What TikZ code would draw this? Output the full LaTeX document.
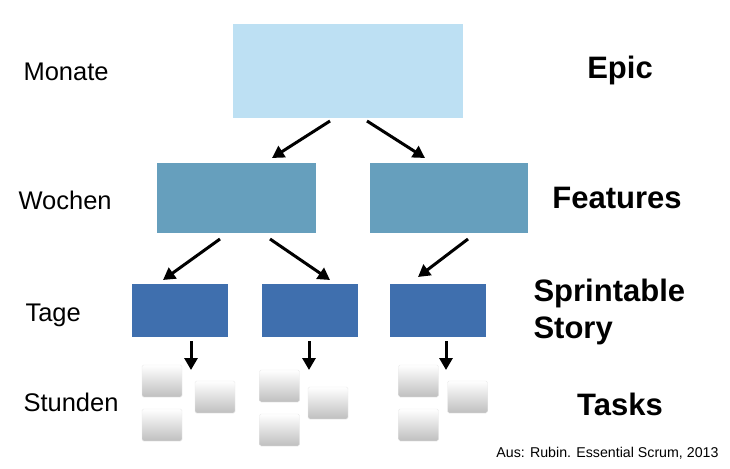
\documentclass[tikz,border=0pt]{standalone}
\usepackage{fontspec}
\setmainfont{Liberation Sans}
\usetikzlibrary{arrows.meta}
\definecolor{epicc}{HTML}{BDE0F3}
\definecolor{featc}{HTML}{669FBD}
\definecolor{storyc}{HTML}{3F6FAE}
\begin{document}
\begin{tikzpicture}[x=1pt,y=-1pt,
 arr/.style={-{Triangle[length=12pt,width=13pt]},line width=3pt},
 lbl/.style={anchor=west,font=\fontsize{25.5}{30}\selectfont},
 ttl/.style={font=\bfseries\fontsize{31}{37}\selectfont},
 task/.style={rounded corners=1.5pt,top color=white,bottom color=black!25,draw=black!8,minimum width=40pt,minimum height=32pt,inner sep=0}]
\useasboundingbox (0,0) rectangle (730,468);
\node[fill=epicc,minimum width=230pt,minimum height=94pt,inner sep=0] (epic) at (348,71) {};
\node[fill=featc,minimum width=159pt,minimum height=70pt,inner sep=0] (f1) at (236.5,198) {};
\node[fill=featc,minimum width=158pt,minimum height=70pt,inner sep=0] (f2) at (449,198) {};
\foreach \n/\x in {s1/180,s2/309.5,s3/438}
 \node[fill=storyc,minimum width=96pt,minimum height=53pt,inner sep=0] (\n) at (\x,310.5) {};
% arrows
\coordinate (a1s) at (330,121); \coordinate (a1e) at (272,158);
\coordinate (a2s) at (367,121); \coordinate (a2e) at (425,158);
\coordinate (a3s) at (220,239); \coordinate (a3e) at (163,280);
\coordinate (a4s) at (270,239); \coordinate (a4e) at (330,280);
\coordinate (a5s) at (468,239); \coordinate (a5e) at (418,277);
\draw[arr] (a1s) -- (a1e);
\draw[arr] (a2s) -- (a2e);
\draw[arr] (a3s) -- (a3e);
\draw[arr] (a4s) -- (a4e);
\draw[arr] (a5s) -- (a5e);
\foreach \i/\x in {1/191,2/309,3/446}{
 \coordinate (d\i s) at (\x,341); \coordinate (d\i e) at (\x,370);
 \draw[arr] (d\i s) -- (d\i e);}
% tasks
\node[task] (t1a) at (162,381) {};
\node[task] (t1b) at (215,397) {};
\node[task] (t1c) at (162,425) {};
\node[task] (t2a) at (279.5,386) {};
\node[task] (t2b) at (328,403) {};
\node[task] (t2c) at (279.5,430) {};
\node[task] (t3a) at (418.5,381) {};
\node[task] (t3b) at (467.5,397) {};
\node[task] (t3c) at (418.5,425) {};
% labels
\node[lbl] (monate) at (20,72) {Monate};
\node[lbl] (wochen) at (15,200) {Wochen};
\node[lbl] (tage) at (22,315) {Tage};
\node[lbl] (stunden) at (20,402) {Stunden};
\node[ttl] (tepic) at (620,70) {Epic};
\node[ttl] (tfeat) at (617,198) {Features};
\node[ttl,anchor=west,align=left] (tstory) at (530,312) {Sprintable\\Story};
\node[ttl] (ttask) at (620,404) {Tasks};
\node[anchor=east,font=\fontsize{14.2}{17}\selectfont] (cite) at (722,453) {Aus: Rubin. Essential Scrum, 2013};
\end{tikzpicture}
\end{document}
